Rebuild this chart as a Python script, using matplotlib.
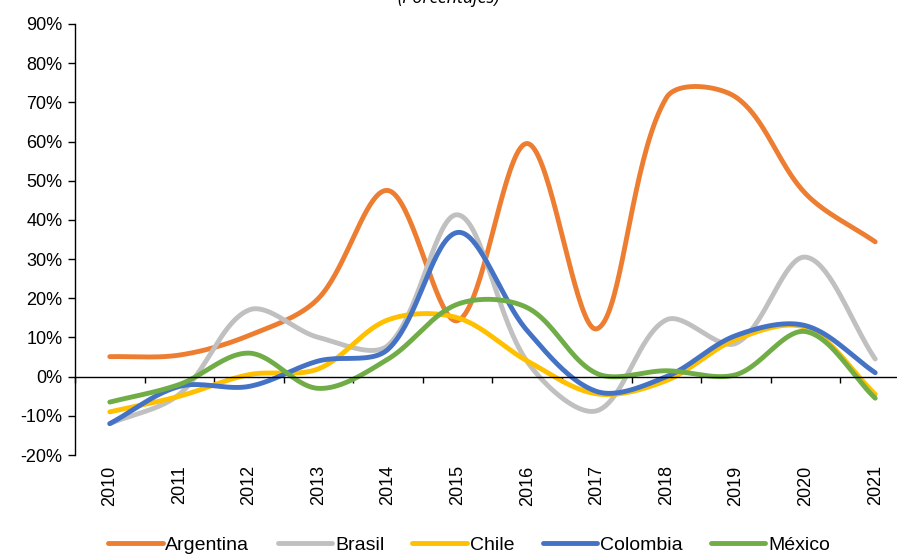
import numpy as np
import matplotlib.pyplot as plt
from matplotlib.ticker import FuncFormatter
from matplotlib.transforms import blended_transform_factory

plt.rcParams['font.family'] = ['Liberation Sans', 'DejaVu Sans']

years = ["2010", "2011", "2012", "2013", "2014", "2015", "2016", "2017", "2018", "2019", "2020", "2021"]
argentina = [5.1, 5.5, 10.5, 20.0, 47.5, 14.3, 59.5, 12.2, 71.2, 71.3, 46.7, 34.4]
brasil = [-12.0, -4.5, 17.0, 10.0, 8.0, 41.3, 3.8, -8.7, 14.5, 8.5, 30.5, 4.5]
chile = [-9.0, -5.0, 0.5, 2.0, 14.5, 15.0, 4.0, -4.4, -1.0, 9.5, 12.5, -4.5]
colombia = [-12.0, -2.5, -2.5, 4.0, 7.0, 36.8, 11.7, -3.8, 0.0, 10.5, 13.0, 1.0]
mexico = [-6.5, -2.0, 6.0, -3.0, 4.5, 18.5, 17.6, 0.8, 1.5, 0.5, 11.5, -5.5]

series = [("Argentina", argentina, "#ED7D31"),
          ("Brasil", brasil, "#C0C0C0"),
          ("Chile", chile, "#FFC000"),
          ("Colombia", colombia, "#4472C4"),
          ("México", mexico, "#70AD47")]

# pixel size of one x step and of 1 % on y (used to smooth in screen space)
sx_px, sy_px = 69.6, 3.92


def smooth(x, y, n=40):
    # spreadsheet-style smoothed line: bezier, tangents weighted by chord lengths
    p = np.column_stack([np.asarray(x, float) * sx_px, np.asarray(y, float) * sy_px])
    p = np.vstack([p[0], p, p[-1]])
    t = np.linspace(0, 1, n)[:, None]
    out = []
    for i in range(1, len(p) - 2):
        p0, p1, p2, p3 = p[i - 1], p[i], p[i + 1], p[i + 2]
        d01 = np.linalg.norm(p1 - p0)
        d12 = np.linalg.norm(p2 - p1)
        d23 = np.linalg.norm(p3 - p2)
        c1 = p1 + (p2 - p0) * d12 / (3 * (d01 + d12))
        c2 = p2 - (p3 - p1) * d12 / (3 * (d12 + d23))
        pts = (1 - t) ** 3 * p1 + 3 * (1 - t) ** 2 * t * c1 + 3 * (1 - t) * t ** 2 * c2 + t ** 3 * p2
        out.append(pts)
    out = np.vstack(out)
    return out[:, 0] / sx_px, out[:, 1] / sy_px


fig = plt.figure(figsize=(8.97, 5.54), dpi=100)
ax = fig.add_axes([0.0836, 0.1787, 1.0145 - 0.0836, 0.9567 - 0.1787])

xpos = np.arange(len(years))
for name, vals, col in series:
    lx, ly = smooth(xpos, vals)
    ax.plot(lx, ly, color=col, lw=3.5, label=name, solid_capstyle='round')

ax.set_xlim(-0.5, len(years) - 0.5)
ax.set_ylim(-20, 90)
ax.set_yticks(np.arange(-20, 91, 10))
ax.yaxis.set_major_formatter(FuncFormatter(lambda v, p: f"{v:.0f}%"))

ax.spines['top'].set_visible(False)
ax.spines['right'].set_visible(False)
ax.spines['bottom'].set_position(('data', 0))
ax.spines['left'].set_linewidth(1.0)
ax.spines['bottom'].set_linewidth(1.0)

ax.set_xticks(np.arange(-0.5, len(years) - 0.4, 1.0))
ax.set_xticklabels([])
ax.tick_params(axis='x', direction='out', length=4.5, width=1)
ax.tick_params(axis='y', direction='out', length=5, width=1, labelsize=13, pad=4)

trans = blended_transform_factory(ax.transData, ax.transAxes)
for i, yr in enumerate(years):
    ax.text(i, -0.024, yr, transform=trans, rotation=90, ha='center', va='top', fontsize=13)

fig.text(0.5, 1 - 3 / 554, "(Porcentajes)", ha='center', va='baseline', fontsize=13,
         style='italic', family=['Open Sans', 'DejaVu Sans'])

fig.legend(loc='center', bbox_to_anchor=(469 / 897, 1 - 545 / 554), ncol=5, frameon=False,
           fontsize=14, handlelength=2.8, handletextpad=0.15, columnspacing=1.45,
           borderpad=0)

plt.savefig("out.png", dpi=100)
